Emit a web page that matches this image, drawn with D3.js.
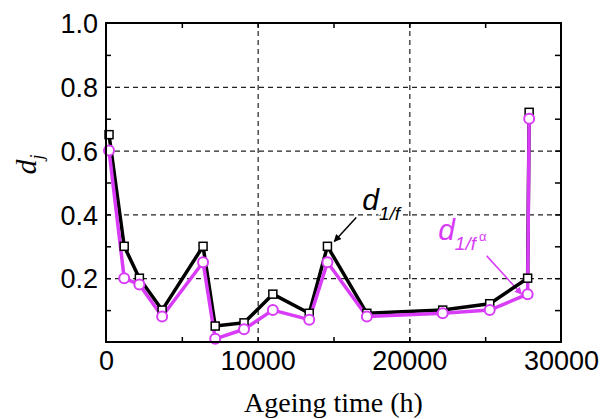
<!DOCTYPE html>
<html>
<head>
<meta charset="utf-8">
<script src="https://cdn.jsdelivr.net/npm/d3@7"></script>
<style>
  body { margin: 0; background: #fff; }
  svg { display: block; }
</style>
</head>
<body>
<div id="chart"></div>
<script>
// ageing time (h) and the two d_j series
const hours = [200, 1200, 2200, 3700, 6400, 7200, 9100, 11000, 13400, 14600, 17200, 22200, 25300, 27800, 27900]
const d1f = [0.65, 0.30, 0.20, 0.10, 0.30, 0.05, 0.06, 0.15, 0.09, 0.30, 0.09, 0.10, 0.12, 0.20, 0.72]
const d1fa = [0.60, 0.20, 0.18, 0.08, 0.25, 0.01, 0.04, 0.10, 0.07, 0.25, 0.08, 0.09, 0.10, 0.15, 0.70]
const xTicks = [0, 10000, 20000, 30000]
const yTicks = [0.2, 0.4, 0.6, 0.8, 1.0]

const margin = { top: 23, left: 106, right: 40, bottom: 77 }
const width = 601 - margin.left - margin.right
const height = 419 - margin.top - margin.bottom
const magenta = '#d83cf6'

const svg = d3.select('#chart').append('svg')
  .attr('width', 601).attr('height', 419)
  .append('g')
  .attr('transform', 'translate(' + margin.left + ',' + margin.top + ')')

const x = d3.scaleLinear().domain([0, 30000]).range([0, width])
const y = d3.scaleLinear().domain([0, 1.0]).range([height, 0])

// dashed grid
svg.append('g')
  .call(d3.axisLeft(y).tickValues([0.2, 0.4, 0.6, 0.8]).tickSize(-width).tickFormat(''))
  .call(g => g.select('.domain').remove())
  .selectAll('line').attr('stroke', '#222').attr('stroke-dasharray', '5,4').attr('stroke-width', 1.2)
svg.append('g')
  .attr('transform', 'translate(0,' + height + ')')
  .call(d3.axisBottom(x).tickValues([10000, 20000]).tickSize(-height).tickFormat(''))
  .call(g => g.select('.domain').remove())
  .selectAll('line').attr('stroke', '#222').attr('stroke-dasharray', '5,4').attr('stroke-width', 1.2)

// inward ticks on all four sides
const minorY = d3.range(0.1, 1.0, 0.1)
const minorX = d3.range(5000, 30000, 5000)
function tickStyle(g) {
  g.select('.domain').remove()
  g.selectAll('line').attr('stroke', '#000').attr('stroke-width', 1.5)
}
svg.append('g').call(d3.axisLeft(y).tickValues(minorY).tickSize(-5).tickFormat('')).call(tickStyle)
svg.append('g').attr('transform', 'translate(' + width + ',0)')
  .call(d3.axisRight(y).tickValues(minorY).tickSize(-6).tickFormat('')).call(tickStyle)
svg.append('g').call(d3.axisTop(x).tickValues(minorX).tickSize(-5).tickFormat('')).call(tickStyle)
svg.append('g').attr('transform', 'translate(0,' + height + ')')
  .call(d3.axisBottom(x).tickValues(minorX).tickSize(-5).tickFormat('')).call(tickStyle)

// tick labels
svg.append('g')
  .call(d3.axisLeft(y).tickValues(yTicks).tickSize(0).tickPadding(8).tickFormat(d3.format('.1f')))
  .call(g => g.select('.domain').remove())
  .selectAll('text')
  .attr('font-family', 'Liberation Sans, Arial, sans-serif').attr('font-size', '27px').attr('fill', '#000')
  .attr('dy', '0.36em')
svg.append('g')
  .attr('transform', 'translate(0,' + height + ')')
  .call(d3.axisBottom(x).tickValues(xTicks).tickSize(0).tickPadding(9).tickFormat(d3.format('d')))
  .call(g => g.select('.domain').remove())
  .selectAll('text')
  .attr('font-family', 'Liberation Sans, Arial, sans-serif').attr('font-size', '27px').attr('fill', '#000')

// annotation labels (white halo breaks the grid, as in the original)
function label(tx, ty, color, sup) {
  const t = svg.append('text')
    .attr('x', tx).attr('y', ty)
    .attr('font-family', 'Liberation Sans, Arial, sans-serif').attr('font-style', 'italic')
    .attr('fill', color)
    .attr('stroke', '#fff').attr('stroke-width', 5).attr('paint-order', 'stroke')
  t.append('tspan').attr('font-size', '30px').text('d')
  t.append('tspan').attr('font-size', '19px').attr('dy', 10).text('1/f')
  if (sup) t.append('tspan').attr('font-size', '13px').attr('font-style', 'normal').attr('dx', 3).attr('dy', -9).text(sup)
}
label(x(16900), y(0.415), '#000')
label(x(21900), y(0.32), magenta, 'α')

svg.append('defs').selectAll('marker')
  .data([['ah-k', '#000'], ['ah-m', magenta]])
  .enter().append('marker')
  .attr('id', d => d[0])
  .attr('viewBox', '0 0 10 10').attr('refX', 9).attr('refY', 5)
  .attr('markerWidth', 5).attr('markerHeight', 5)
  .attr('orient', 'auto')
  .append('path').attr('d', 'M0,0 L10,5 L0,10 z').attr('fill', d => d[1])

svg.append('line')
  .attr('x1', x(16500)).attr('y1', y(0.39))
  .attr('x2', x(15050)).attr('y2', y(0.315))
  .attr('stroke', '#000').attr('stroke-width', 1.5).attr('marker-end', 'url(#ah-k)')
svg.append('line')
  .attr('x1', x(25100)).attr('y1', y(0.27))
  .attr('x2', x(27400)).attr('y2', y(0.15))
  .attr('stroke', magenta).attr('stroke-width', 1.5).attr('marker-end', 'url(#ah-m)')

// series
const line = d3.line().x((d, i) => x(hours[i])).y(d => y(d))
svg.append('path').datum(d1f).attr('d', line)
  .attr('fill', 'none').attr('stroke', '#000').attr('stroke-width', 3.5).attr('stroke-linejoin', 'round')
svg.append('path').datum(d1fa).attr('d', line)
  .attr('fill', 'none').attr('stroke', magenta).attr('stroke-width', 3.5).attr('stroke-linejoin', 'round')

svg.selectAll('.sq').data(d1f).enter().append('rect')
  .attr('class', 'sq')
  .attr('x', (d, i) => x(hours[i]) - 4).attr('y', d => y(d) - 4)
  .attr('width', 8).attr('height', 8)
  .attr('fill', '#fff').attr('stroke', '#000').attr('stroke-width', 1.5)
svg.selectAll('.ci').data(d1fa).enter().append('circle')
  .attr('class', 'ci')
  .attr('cx', (d, i) => x(hours[i])).attr('cy', d => y(d))
  .attr('r', 5)
  .attr('fill', '#fff').attr('stroke', magenta).attr('stroke-width', 2)

// frame
svg.append('rect').attr('width', width).attr('height', height)
  .attr('fill', 'none').attr('stroke', '#000').attr('stroke-width', 2)

// axis titles
svg.append('text')
  .attr('x', width / 2).attr('y', height + 70)
  .attr('text-anchor', 'middle')
  .attr('font-family', 'Liberation Serif, Times New Roman, serif').attr('font-size', '28px')
  .text('Ageing time (h)')

const yl = svg.append('text')
  .attr('transform', 'translate(-70,' + (height / 2 - 18) + ') rotate(-90)')
  .attr('text-anchor', 'middle')
  .attr('font-family', 'Liberation Serif, Times New Roman, serif').attr('font-style', 'italic')
yl.append('tspan').attr('font-size', '30px').text('d')
yl.append('tspan').attr('font-size', '18px').attr('dy', 7).text('j')
</script>
</body>
</html>
